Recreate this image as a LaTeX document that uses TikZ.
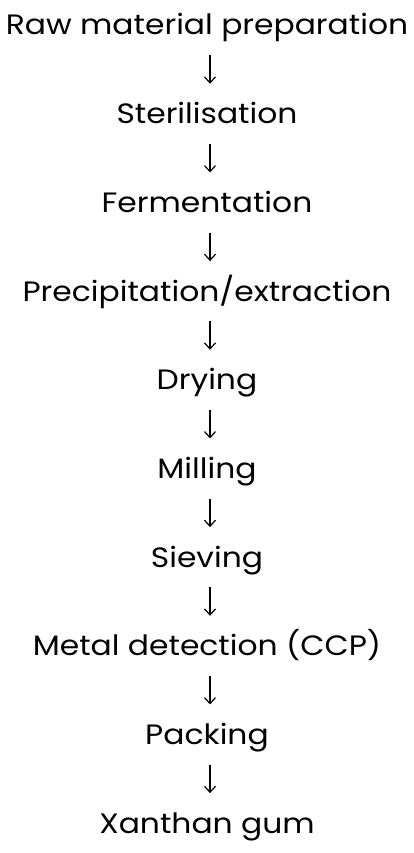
\documentclass[tikz,border=0pt]{standalone}
\usepackage{fontspec}
\setmainfont{Poppins}[FakeStretch=1.12]
\usetikzlibrary{arrows.meta}
\begin{document}
\begin{tikzpicture}[x=1pt,y=-1pt,
  stage/.style={anchor=base,inner sep=0pt,text height=20pt,text depth=6pt,font=\fontsize{28}{31}\selectfont},
  flow/.style={line width=1.2pt,-{Straight Barb[length=6pt,width=11pt,line width=1.2pt]},shorten <=14pt,shorten >=19.7pt}]
\useasboundingbox (0,0) rectangle (414,853);
\foreach \t [count=\i from 0] in {Raw material preparation,Sterilisation,Fermentation,Precipitation/extraction,Drying,Milling,Sieving,Metal detection (CCP),Packing,Xanthan gum}{
  \node[stage] (n\i) at (207,35+88.67*\i) {\t};
}
\foreach \i [evaluate=\i as \j using int(\i+1)] in {0,...,8}{
  \draw[flow] ([xshift=3pt]n\i.south) -- ([xshift=3pt]n\j.north);
}
\end{tikzpicture}
\end{document}
